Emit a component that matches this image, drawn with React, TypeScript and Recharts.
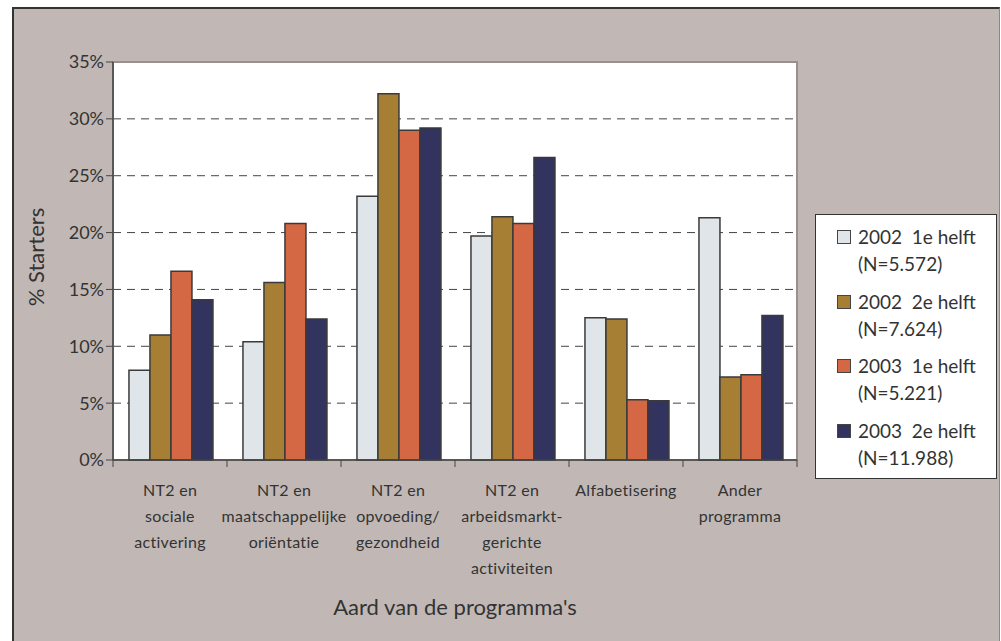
import React from 'react'
import { BarChart, Bar, XAxis, YAxis, CartesianGrid, ReferenceArea } from 'recharts'

const categories = [
  'NT2 en sociale activering',
  'NT2 en maatschappelijke oriëntatie',
  'NT2 en opvoeding/ gezondheid',
  'NT2 en arbeidsmarkt- gerichte activiteiten',
  'Alfabetisering',
  'Ander programma',
]

// label lines as printed under each group
const categoryLines = [
  ['NT2 en', 'sociale', 'activering'],
  ['NT2 en', 'maatschappelijke', 'oriëntatie'],
  ['NT2 en', 'opvoeding/', 'gezondheid'],
  ['NT2 en', 'arbeidsmarkt-', 'gerichte', 'activiteiten'],
  ['Alfabetisering'],
  ['Ander', 'programma'],
]

const h2002a = [7.9, 10.4, 23.2, 19.7, 12.5, 21.3]
const h2002b = [11.0, 15.6, 32.2, 21.4, 12.4, 7.3]
const h2003a = [16.6, 20.8, 29.0, 20.8, 5.3, 7.5]
const h2003b = [14.1, 12.4, 29.2, 26.6, 5.2, 12.7]

const yTicks = [0, 5, 10, 15, 20, 25, 30, 35]

const series = [
  { key: 'h2002a', line1: '2002  1e helft', line2: '(N=5.572)', color: '#e0e5e9' },
  { key: 'h2002b', line1: '2002  2e helft', line2: '(N=7.624)', color: '#a67f35' },
  { key: 'h2003a', line1: '2003  1e helft', line2: '(N=5.221)', color: '#d46844' },
  { key: 'h2003b', line1: '2003  2e helft', line2: '(N=11.988)', color: '#333360' },
]

const data = categories.map((name, i) => ({
  name,
  h2002a: h2002a[i],
  h2002b: h2002b[i],
  h2003a: h2003a[i],
  h2003b: h2003b[i],
}))

const FONT = 'Lato, "Open Sans", sans-serif'
const TEXT = '#333'

// tick marks sit on the category boundaries, not the centres
const CategoryTick = ({ x, y, payload }: any) => {
  const lines = categoryLines[payload.index] || [payload.value]
  const half = payload.offset || 57
  const axisY = y - 9
  const last = payload.index === categories.length - 1
  return (
    <g>
      <line x1={x - half} x2={x - half} y1={axisY} y2={axisY + 7} stroke="#444" />
      {last && <line x1={x + half} x2={x + half} y1={axisY} y2={axisY + 7} stroke="#444" />}
      {lines.map((l, i) => (
        <text
          key={i}
          x={x}
          y={y + 23 + i * 26}
          textAnchor="middle"
          dominantBaseline="middle"
          fontSize={16}
          fontFamily={FONT}
          fill={TEXT}
          letterSpacing={0.3}
        >
          {l}
        </text>
      ))}
    </g>
  )
}

const LegendBox = () => (
  <div
    style={{
      position: 'absolute',
      left: 815,
      top: 214,
      width: 182,
      height: 265,
      background: '#fff',
      border: '1.5px solid #333',
      boxSizing: 'border-box',
      fontFamily: FONT,
      color: TEXT,
      fontSize: 19,
      paddingTop: 8,
    }}
  >
    {series.map((s) => (
      <div key={s.key} style={{ position: 'relative', height: 64.5, paddingLeft: 42 }}>
        <span
          style={{
            position: 'absolute',
            left: 21,
            top: 7,
            width: 14,
            height: 14,
            background: s.color,
            border: '1.5px solid #444',
            boxSizing: 'border-box',
          }}
        />
        <div style={{ lineHeight: '27px', whiteSpace: 'pre' }}>{s.line1}</div>
        <div style={{ lineHeight: '27px' }}>{s.line2}</div>
      </div>
    ))}
  </div>
)

export default function App() {
  return (
    <div
      style={{
        position: 'absolute',
        left: 0,
        top: 0,
        width: 1001,
        height: 641,
        overflow: 'hidden',
        background: '#fff',
      }}
    >
      <div
        style={{
          position: 'absolute',
          left: 12,
          top: 7,
          width: 988,
          height: 700,
          background: '#c1b8b5',
          borderTop: '2px solid #333',
          borderLeft: '2px solid #333',
          borderRight: '1px solid #8d8683',
          boxSizing: 'border-box',
        }}
      />
      <div style={{ position: 'absolute', left: 0, top: 0 }}>
        <BarChart
          width={1001}
          height={641}
          data={data}
          margin={{ top: 62, right: 204, left: 0, bottom: 0 }}
          barCategoryGap="14%"
          barGap={0}
        >
          <CartesianGrid
            vertical={false}
            horizontal
            stroke="#444"
            strokeDasharray="8 6"
            fill="#fff"
            fillOpacity={1}
          />
          <ReferenceArea y1={0} y2={35} fill="none" stroke="#9a908d" strokeWidth={2} />
          <XAxis
            dataKey="name"
            interval={0}
            height={181}
            axisLine={{ stroke: '#444', strokeWidth: 1.5 }}
            tickLine={{ stroke: 'none' }}
            tickSize={7}
            tick={<CategoryTick />}
            label={{
              content: () => (
                <text
                  x={455}
                  y={609}
                  textAnchor="middle"
                  dominantBaseline="middle"
                  fontSize={22}
                  fontFamily={FONT}
                  fill={TEXT}
                >
                  Aard van de programma's
                </text>
              ),
            }}
          />
          <YAxis
            width={113}
            domain={[0, 35]}
            ticks={yTicks}
            interval={0}
            tickFormatter={(v) => `${v}%`}
            axisLine={{ stroke: '#444', strokeWidth: 1.5 }}
            tickLine={{ stroke: '#444' }}
            tickSize={7}
            tick={{ fontSize: 18, fontFamily: FONT, fill: TEXT }}
            label={{
              content: () => (
                <text
                  x={38}
                  y={257}
                  textAnchor="middle"
                  dominantBaseline="middle"
                  fontSize={22}
                  fontFamily={FONT}
                  fill={TEXT}
                  transform="rotate(-90 38 257)"
                >
                  % Starters
                </text>
              ),
            }}
          />
          {series.map((s) => (
            <Bar
              key={s.key}
              dataKey={s.key}
              name={s.line1}
              fill={s.color}
              stroke="#3a3a3a"
              strokeWidth={1.5}
              isAnimationActive={false}
            />
          ))}
        </BarChart>
      </div>
      <LegendBox />
    </div>
  )
}
